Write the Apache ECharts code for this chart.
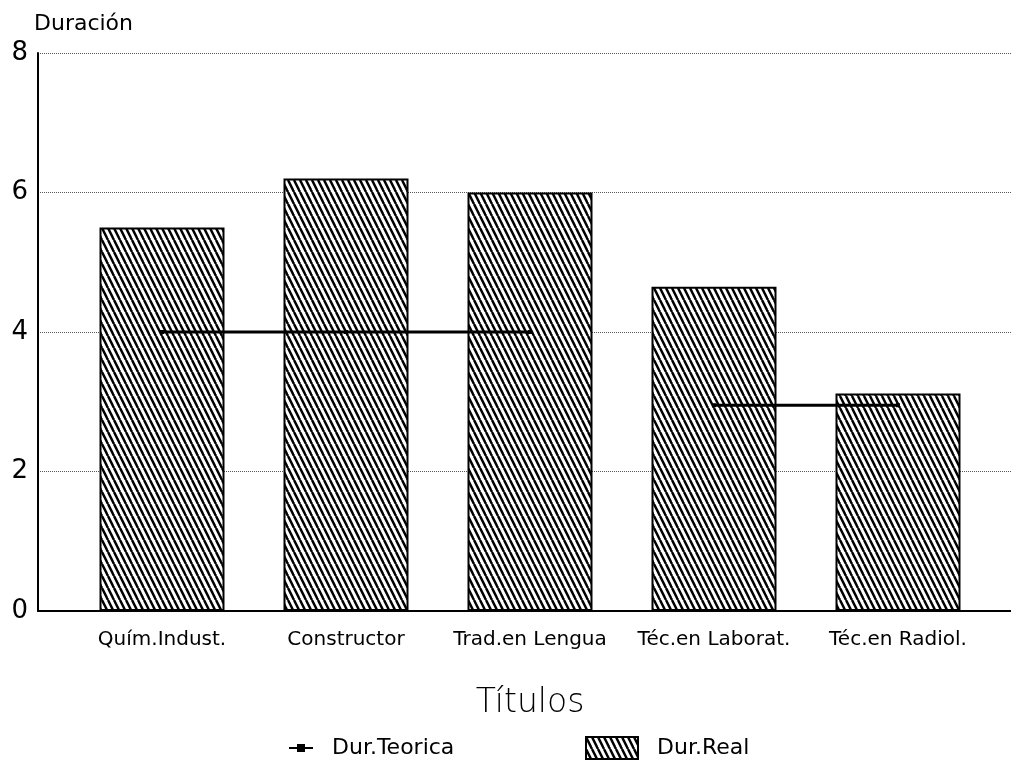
<!DOCTYPE html>
<html lang="es">
<head>
    <meta charset="UTF-8">
    <title>Duración</title>
    <script src="https://cdn.jsdelivr.net/npm/echarts@6/dist/echarts.min.js"></script>
    <style>
        html, body { margin: 0; padding: 0; background: #fff; }
        #main { width: 1011px; height: 765px; }
    </style>
</head>
<body>
<div id="main"></div>
<script>
    var titulos = ['Quím.Indust.', 'Constructor', 'Trad.en Lengua', 'Téc.en Laborat.', 'Téc.en Radiol.'];
    var durReal = [5.5, 6.2, 6.0, 4.65, 3.12];
    var durTeoricaA = [4, 4, 4, '-', '-'];
    var durTeoricaB = ['-', '-', '-', 2.95, 2.95];
    var yTicks = [0, 2, 4, 6, 8];

    // rayado diagonal para las barras
    function hatch() {
        var c = document.createElement('canvas');
        c.width = 6; c.height = 12;
        var ctx = c.getContext('2d');
        ctx.fillStyle = '#fff';
        ctx.fillRect(0, 0, 6, 12);
        ctx.strokeStyle = '#000';
        ctx.lineWidth = 2.5;
        for (var k = -1; k <= 1; k++) {
            ctx.beginPath();
            ctx.moveTo(k * 6, 0);
            ctx.lineTo(k * 6 + 6, 12);
            ctx.stroke();
        }
        return c;
    }
    var pattern = { image: hatch(), repeat: 'repeat' };
    var font = 'DejaVu Sans';

    var myChart = echarts.init(document.getElementById('main'));
    var option = {
        backgroundColor: '#fff',
        animation: false,
        textStyle: { fontFamily: font, color: '#000' },
        grid: [
            { left: 38, right: 0, top: 53, bottom: 154 },
            { left: 70, width: 920, top: 53, bottom: 154 }
        ],
        legend: [
            {
                data: ['Dur.Teorica'],
                left: 283, top: 732,
                itemWidth: 24, itemHeight: 10,
                textStyle: { fontFamily: font, fontSize: 22, color: '#000', padding: [0, 0, 0, 14] }
            },
            {
                data: [{ name: 'Dur.Real', icon: 'rect' }],
                left: 580, top: 731,
                itemWidth: 52, itemHeight: 22,
                textStyle: { fontFamily: font, fontSize: 22, color: '#000', padding: [0, 0, 0, 14] }
            }
        ],
        xAxis: [
            {
                gridIndex: 0, type: 'value', min: 0, max: 1,
                axisLine: { show: true, lineStyle: { color: '#000', width: 2 } },
                axisTick: { show: false }, axisLabel: { show: false }, splitLine: { show: false }
            },
            {
                gridIndex: 1, type: 'category', data: titulos,
                axisLine: { show: false }, axisTick: { show: false },
                axisLabel: { fontFamily: font, fontSize: 20, color: '#000', margin: 19, interval: 0 },
                name: 'Títulos', nameLocation: 'middle', nameGap: 76,
                nameTextStyle: { fontFamily: font, fontSize: 33, color: '#000', fontWeight: 'lighter' }
            }
        ],
        yAxis: [
            {
                gridIndex: 0, type: 'value', min: 0, max: 8, interval: 2,
                name: 'Duración', nameLocation: 'end', nameGap: 18,
                nameTextStyle: { fontFamily: font, fontSize: 22, color: '#000', align: 'left', padding: [0, 0, 0, -4] },
                axisLine: { show: true, lineStyle: { color: '#000', width: 2 } },
                axisTick: { show: false },
                axisLabel: {
                    fontFamily: font, fontSize: 26, color: '#000', margin: 10,
                    formatter: function (v) { return yTicks.indexOf(v) >= 0 ? String(v) : ''; }
                },
                splitLine: { show: true, lineStyle: { color: '#555', type: 'dotted', width: 1 } }
            },
            { gridIndex: 1, type: 'value', min: 0, max: 8, show: false }
        ],
        series: [
            {
                name: 'Dur.Real', type: 'bar',
                xAxisIndex: 1, yAxisIndex: 1,
                barWidth: 125,
                data: durReal,
                itemStyle: { color: pattern, borderColor: '#000', borderWidth: 2 },
                z: 2
            },
            {
                name: 'Dur.Teorica', type: 'line',
                xAxisIndex: 1, yAxisIndex: 1,
                data: durTeoricaA,
                symbol: 'rect', symbolSize: 4,
                itemStyle: { color: '#000' },
                lineStyle: { color: '#000', width: 3 },
                z: 5
            },
            {
                name: 'Dur.Teorica', type: 'line',
                xAxisIndex: 1, yAxisIndex: 1,
                data: durTeoricaB,
                symbol: 'rect', symbolSize: 4,
                itemStyle: { color: '#000' },
                lineStyle: { color: '#000', width: 3 },
                z: 5
            }
        ]
    };
    myChart.setOption(option);
</script>
</body>
</html>
